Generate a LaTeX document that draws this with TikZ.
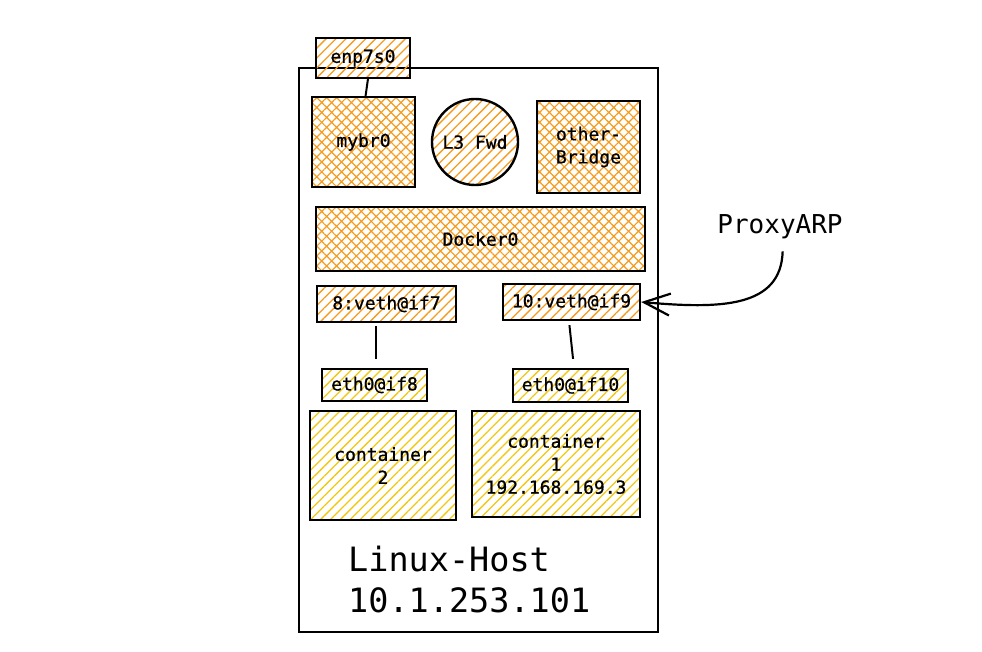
\documentclass[tikz,border=0pt]{standalone}
\usepackage{fontspec}
\newfontfamily\mono{DejaVu Sans Mono}
\newfontfamily\monob[FakeBold=0.8]{DejaVu Sans Mono}
\usetikzlibrary{patterns.meta,arrows.meta}
\definecolor{orng}{HTML}{F59B1E}
\definecolor{ylw}{HTML}{F2C811}
\tikzset{
  box/.style={draw=black, line width=2.4pt, inner sep=0pt, align=center,
    font=\monob\fontsize{18}{23}\selectfont},
  hatchO/.style={pattern={Lines[angle=45,distance=7pt,line width=1.3pt]}, pattern color=orng},
  crossO/.style={pattern={Hatch[angle=45,distance=7pt,line width=1.2pt]}, pattern color=orng},
  hatchY/.style={pattern={Lines[angle=45,distance=7pt,line width=1.3pt]}, pattern color=ylw},
  link/.style={line width=2pt},
  hostbox/.style={draw=black, line width=2.2pt, inner sep=0pt},
}
\begin{document}
\begin{tikzpicture}[x=1pt,y=-1pt]
\useasboundingbox (0,0) rectangle (982,652);
\node[hostbox, minimum width=359pt, minimum height=564pt] (host) at (478.5,350) {};
\node[box, hatchO, minimum width=94pt, minimum height=40pt] (enp) at (363,58) {enp7s0};
\node[box, crossO, minimum width=103pt, minimum height=90pt] (mybr) at (363.5,142) {mybr0};
\node[box, hatchO, circle, minimum size=86pt] (l3) at (475,142) {L3 Fwd};
\node[box, crossO, minimum width=103pt, minimum height=92pt] (other) at (588.5,147) {other-\\Bridge};
\node[box, crossO, minimum width=329pt, minimum height=64pt] (docker) at (480.5,239) {Docker0};
\node[box, hatchO, minimum width=139pt, minimum height=36pt] (veth7) at (386.5,304) {8:veth@if7};
\node[box, hatchO, minimum width=137pt, minimum height=36pt] (veth9) at (571.5,302) {10:veth@if9};
\node[box, hatchY, minimum width=105pt, minimum height=32pt] (eth8) at (374.5,385) {eth0@if8};
\node[box, hatchY, minimum width=115pt, minimum height=33pt] (eth10) at (570.5,385.5) {eth0@if10};
\node[box, hatchY, minimum width=146pt, minimum height=109pt] (c2) at (383,465.5) {container\\2};
\node[box, hatchY, minimum width=168pt, minimum height=106pt] (c1) at (556,464) {container\\1\\192.168.169.3};
\node[inner sep=0pt, anchor=west, align=left, font=\mono\fontsize{33.5}{41}\selectfont] (hosttxt) at (348,580) {Linux-Host\\10.1.253.101};
\node[inner sep=0pt, font=\mono\fontsize{26}{30}\selectfont] (proxy) at (780,227) {ProxyARP};
\draw[link] ([xshift=5pt]enp.south) -- ([xshift=2pt]mybr.north);
\draw[link, shorten <=3pt, shorten >=9pt] ([xshift=-10.5pt]veth7.south) -- ([xshift=1.5pt]eth8.north);
\draw[link, shorten <=4pt, shorten >=9pt] ([xshift=-2.5pt]veth9.south) -- ([xshift=3.5pt]eth10.north);
\draw[line width=2.2pt, -{Straight Barb[length=26pt, width=22pt, line width=2.2pt]}, shorten <=12pt]
  ([xshift=3pt]proxy.south) .. controls (781,308) and (720,309) .. (veth9.east);
\end{tikzpicture}
\end{document}
